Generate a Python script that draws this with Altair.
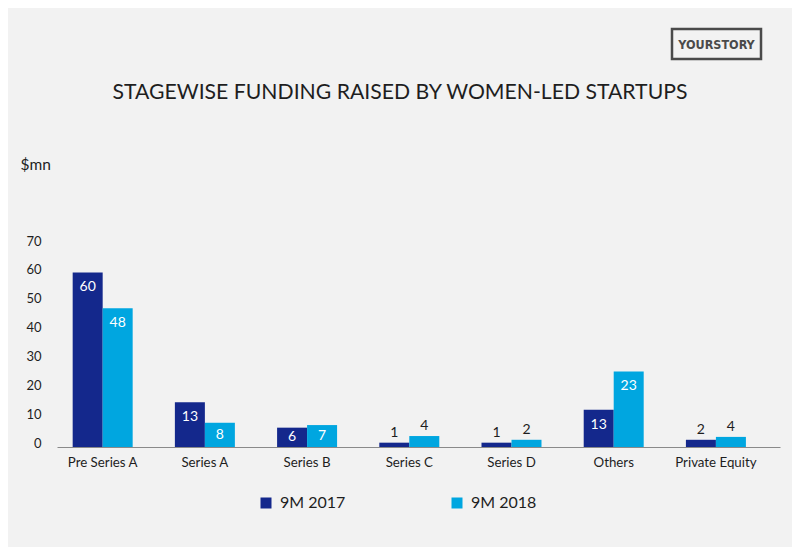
import altair as alt
import pandas as pd

categories = ["Pre Series A", "Series A", "Series B", "Series C", "Series D", "Others", "Private Equity"]
series = ["9M 2017", "9M 2018"]
values_2017 = [60.5, 15.5, 6.7, 1.5, 1.5, 12.9, 2.5]
values_2018 = [48.1, 8.4, 7.6, 3.8, 2.5, 26.2, 3.5]
labels_2017 = ["60", "13", "6", "1", "1", "13", "2"]
labels_2018 = ["48", "8", "7", "4", "2", "23", "4"]
inside_2017 = [True, True, True, False, False, True, False]
inside_2018 = [True, True, True, False, False, True, False]
y_ticks = [0, 10, 20, 30, 40, 50, 60, 70]

rows = []
for i, c in enumerate(categories):
    rows.append({"cat": c, "series": series[0], "value": values_2017[i], "label": labels_2017[i], "inside": inside_2017[i]})
    rows.append({"cat": c, "series": series[1], "value": values_2018[i], "label": labels_2018[i], "inside": inside_2018[i]})
df = pd.DataFrame(rows)

DARK = "#14288c"
LIGHT = "#00a6e0"
BG = "#f2f2f2"
TXT = "#1e1e1e"
FONT = "Lato"

x_axis = alt.Axis(title=None, labelAngle=0, labelFontSize=13.3, labelColor=TXT, labelFont=FONT,
                  domainColor="#8a8a8a", domainWidth=1.2, ticks=False, labelPadding=8)
x_scale = alt.Scale(paddingInner=0.413, paddingOuter=0.2435, align=0.315)
y_axis = alt.Axis(values=y_ticks, grid=False, domain=False, ticks=False, labelOverlap=False,
                  labelFontSize=13, labelColor=TXT, labelFont=FONT, labelPadding=16,
                  labelOffset=-4,
                  title="$mn", titleAngle=0, titleAlign="left", titleBaseline="middle",
                  titleX=-37, titleY=-81, titleFontSize=15.5, titleFontWeight="normal",
                  titleFont=FONT, titleColor=TXT)
xo = alt.XOffset("series:N", sort=series, scale=alt.Scale(paddingInner=0, paddingOuter=0))
y_scale = alt.Scale(domain=[0, 70], nice=False)

base = alt.Chart(df)

bars = base.mark_bar(size=30).encode(
    x=alt.X("cat:N", sort=categories, scale=x_scale, axis=x_axis),
    xOffset=xo,
    y=alt.Y("value:Q", scale=y_scale, axis=y_axis),
    color=alt.Color("series:N", sort=series, scale=alt.Scale(domain=series, range=[DARK, LIGHT]),
                    legend=alt.Legend(title=None, orient="none", direction="horizontal",
                                      legendX=201, legendY=250, symbolType="square", symbolSize=121,
                                      symbolStrokeWidth=0, symbolOpacity=1,
                                      labelFontSize=16, labelFont=FONT, labelColor=TXT,
                                      labelOffset=6, columnPadding=103)),
)

inside_txt = base.transform_filter("datum.inside").transform_calculate(
    ly="max(datum.value - 5.2, datum.value / 2)"
).mark_text(color="white", fontSize=14, font=FONT, baseline="middle").encode(
    x=alt.X("cat:N", sort=categories, scale=x_scale, axis=x_axis), xOffset=xo,
    y=alt.Y("ly:Q", scale=y_scale, axis=y_axis), text="label:N")

outside_txt = base.transform_filter("!datum.inside").mark_text(
    color=TXT, fontSize=14, font=FONT, baseline="middle", dy=-10).encode(
    x=alt.X("cat:N", sort=categories, scale=x_scale, axis=x_axis), xOffset=xo,
    y=alt.Y("value:Q", scale=y_scale, axis=y_axis), text="label:N")

title = alt.Chart(pd.DataFrame({"t": ["STAGEWISE FUNDING RAISED BY WOMEN-LED STARTUPS"]})).mark_text(
    fontSize=21.2, font=FONT, color=TXT, baseline="middle", align="center").encode(
    x=alt.value(343), y=alt.value(-152), text="t:N")

logo_box = alt.Chart(pd.DataFrame({"a": [0]})).mark_rect(
    fill="none", stroke="#4a4a4a", strokeWidth=2.5).encode(
    x=alt.value(615), x2=alt.value(704), y=alt.value(-216), y2=alt.value(-186))
logo_txt = alt.Chart(pd.DataFrame({"t": ["YOURSTORY"]})).mark_text(
    fontSize=12.5, font="DejaVu Sans Condensed, Liberation Sans Narrow, Arial Narrow, sans-serif",
    fontWeight="bold", color="#4a4a4a",
    baseline="middle", align="center").encode(
    x=alt.value(659.5), y=alt.value(-200.5), text="t:N")

chart = alt.layer(bars, inside_txt, outside_txt, title, logo_box, logo_txt).properties(
    width=723, height=202,
    autosize=alt.AutoSizeParams(type="none"),
    padding={"left": 49, "top": 237, "right": 12, "bottom": 100},
    background=BG,
).configure_view(stroke=None).configure_axis(labelFont=FONT)

chart.save("out.html", embed_options={"renderer": "svg", "actions": False})
